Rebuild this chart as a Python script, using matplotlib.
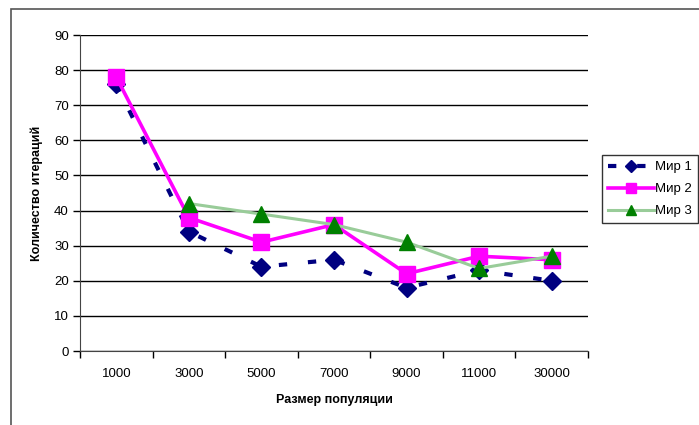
import numpy as np
import matplotlib.pyplot as plt
from matplotlib.patches import Rectangle

plt.rcParams["font.family"] = ["Liberation Sans", "DejaVu Sans"]

categories = ["1000", "3000", "5000", "7000", "9000", "11000", "30000"]
mir1 = [76, 34, 24, 26, 18, 23, 20]
mir2 = [78, 38, 31, 36, 22, 27, 26]
mir3 = [np.nan, 42, 39, 36, 31, 23.5, 27]


def main():
    fig = plt.figure(figsize=(6.99, 4.25), dpi=100)
    # outer chart border (right/bottom edges cut off like the original)
    fig.patches.append(Rectangle((11 / 699, -0.1), 2, 1 - 9 / 425 + 0.1,
                                 transform=fig.transFigure, fill=False,
                                 edgecolor="#555555", linewidth=1.2))
    ax = fig.add_axes([80 / 699, 74 / 425, 508 / 699, 316 / 425])

    x = np.arange(len(categories))
    ax.plot(x, mir1, color="#000080", linewidth=3, linestyle=(0, (2, 5)),
            marker="D", markersize=9, markerfacecolor="#000080",
            markeredgecolor="#000080", label="Мир 1", zorder=3)
    ax.plot(x, mir2, color="#FF00FF", linewidth=2.6, marker="s",
            markersize=11, markerfacecolor="#FF00FF",
            markeredgecolor="#FF00FF", label="Мир 2", zorder=4)
    ax.plot(x, mir3, color="#99CC99", linewidth=2.2, marker="^",
            markersize=11, markerfacecolor="#008000",
            markeredgecolor="#008000", label="Мир 3", zorder=5)

    ax.set_xlim(-0.5, len(categories) - 0.5)
    ax.set_ylim(0, 90)
    ax.set_yticks(range(0, 91, 10))
    ax.set_xticks(x)
    ax.set_xticklabels(categories)
    ax.set_xticks(np.arange(-0.5, len(categories), 1), minor=True)
    ax.tick_params(axis="x", which="major", length=0, pad=12, labelsize=9.5)
    ax.tick_params(axis="x", which="minor", length=5, width=1)
    ax.tick_params(axis="y", length=5, width=1, labelsize=9.5, pad=3)
    ax.grid(axis="y", color="black", linewidth=1)
    ax.set_axisbelow(True)
    for side in ["top", "right"]:
        ax.spines[side].set_visible(False)
    ax.spines["left"].set_color("#444444")
    ax.spines["bottom"].set_color("#444444")

    ax.set_xlabel("Размер популяции", fontsize=9, fontweight="bold", labelpad=10)
    ax.set_ylabel("Количество итераций", fontsize=9, fontweight="bold", labelpad=8)

    handles, labels = ax.get_legend_handles_labels()
    leg = fig.legend(handles, labels, loc="upper left",
                     bbox_to_anchor=(602 / 699, 1 - 155 / 425),
                     fontsize=9.5, frameon=True, fancybox=False,
                     handlelength=3.5, handletextpad=0.1, borderpad=0.45,
                     borderaxespad=0, labelspacing=0.75, markerscale=0.65)
    leg.get_frame().set_edgecolor("black")
    leg.get_frame().set_linewidth(1)

    fig.savefig("out.png", dpi=100)
    plt.close(fig)


if __name__ == "__main__":
    main()
